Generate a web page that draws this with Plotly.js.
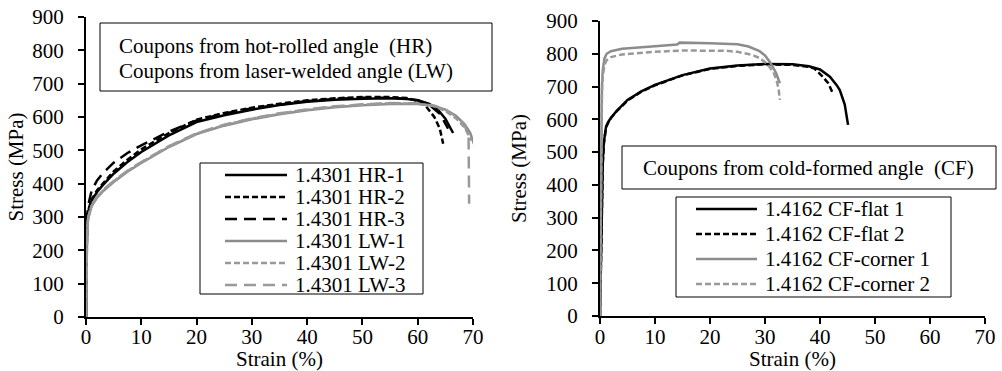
<!DOCTYPE html>
<html><head><meta charset="utf-8">
<script src="https://cdn.plot.ly/plotly-3.0.1.min.js"></script>
<style>html,body{margin:0;padding:0;background:#fff}</style>
</head><body><div id="chart" style="width:1002px;height:371px"></div>
<script>
// ---------- data (strain %, stress MPa) ----------
const hr1Strain = [0, 0.1, 0.2, 0.4, 0.7, 1, 2, 3, 5, 7.5, 10, 15, 20, 25, 30, 35, 40, 45, 50, 55, 58, 60, 62, 63.5, 65, 66.4];
const hr1Stress = [0, 200, 290, 315, 335, 348, 375, 395, 430, 465, 495, 545, 585, 605, 622, 636, 646, 652, 655, 656, 654, 650, 640, 625, 595, 552];
const hr2Strain = [0, 0.1, 0.2, 0.4, 0.7, 1, 2, 3, 5, 7.5, 10, 15, 20, 25, 30, 35, 40, 45, 50, 55, 58, 60, 61.5, 63, 64, 64.6];
const hr2Stress = [0, 200, 295, 320, 340, 352, 380, 400, 437, 472, 503, 552, 592, 612, 628, 640, 650, 656, 660, 660, 657, 648, 632, 600, 565, 520];
const hr3Strain = [0, 0.1, 0.2, 0.4, 0.7, 1, 2, 3, 5, 7.5, 10, 15, 20, 25, 30, 35, 40, 45, 50, 55, 58, 60, 62, 64, 65.5];
const hr3Stress = [0, 210, 300, 335, 360, 378, 410, 430, 463, 492, 515, 556, 590, 610, 626, 638, 648, 654, 658, 658, 655, 650, 638, 610, 565];
const lw1Strain = [0, 0.1, 0.2, 0.4, 0.7, 1, 2, 3, 5, 7.5, 10, 15, 20, 25, 30, 35, 40, 45, 50, 55, 60, 63, 65, 67, 68.5, 69.5, 70.2];
const lw1Stress = [0, 180, 260, 295, 318, 332, 358, 376, 405, 436, 462, 510, 549, 574, 593, 608, 620, 629, 635, 639, 639, 633, 622, 602, 578, 552, 518];
const lw2Strain = [0, 0.1, 0.2, 0.4, 0.7, 1, 2, 3, 5, 7.5, 10, 15, 20, 25, 30, 35, 40, 45, 50, 55, 60, 63, 65, 67, 68.5, 69.7];
const lw2Stress = [0, 185, 265, 298, 320, 334, 360, 378, 407, 438, 464, 512, 550, 576, 595, 610, 622, 631, 637, 641, 640, 632, 618, 595, 568, 530];
const lw3Strain = [0, 0.1, 0.2, 0.4, 0.7, 1, 2, 3, 5, 7.5, 10, 15, 20, 25, 30, 35, 40, 45, 50, 55, 60, 63, 65, 67, 68.5, 69.2, 69.3];
const lw3Stress = [0, 190, 270, 300, 322, 336, 362, 380, 408, 439, 465, 513, 551, 577, 596, 611, 623, 632, 638, 642, 641, 634, 622, 603, 575, 540, 340];

const flat1Strain = [0, 0.3, 0.5, 0.7, 0.9, 1.1, 1.5, 2, 3, 5, 7.5, 10, 15, 20, 25, 30, 35, 38, 40, 41.8, 43, 43.6, 44.5, 45.1];
const flat1Stress = [0, 300, 470, 530, 560, 578, 592, 605, 625, 659, 685, 705, 735, 755, 764, 769, 768, 762, 752, 730, 705, 689, 645, 583];
const flat2Strain = [0, 0.3, 0.5, 0.7, 0.9, 1.1, 1.5, 2, 3, 5, 7.5, 10, 15, 20, 25, 30, 35, 38, 39, 40.5, 41.5, 42.3];
const flat2Stress = [0, 290, 460, 525, 558, 576, 590, 604, 624, 657, 684, 704, 734, 754, 763, 768, 766, 760, 755, 730, 710, 681];
const corner1Strain = [0, 0.2, 0.35, 0.5, 0.8, 1.2, 2, 4, 7, 10, 14, 14.5, 20, 25, 27, 29, 30, 31, 32, 32.7];
const corner1Stress = [0, 550, 700, 750, 785, 800, 808, 815, 820, 823, 828, 834, 832, 829, 822, 808, 795, 772, 742, 710];
const corner2Strain = [0, 0.2, 0.35, 0.5, 0.8, 1.2, 2, 4, 7, 10, 15, 20, 23, 25, 27.8, 29, 30.3, 31.5, 32.1, 32.5, 32.7];
const corner2Stress = [0, 540, 680, 730, 765, 780, 790, 798, 803, 806, 810, 810, 809, 806, 796, 787, 771, 745, 720, 690, 659];

const leftNames = ['1.4301 HR-1', '1.4301 HR-2', '1.4301 HR-3', '1.4301 LW-1', '1.4301 LW-2', '1.4301 LW-3'];
const rightNames = ['1.4162 CF-flat 1', '1.4162 CF-flat 2', '1.4162 CF-corner 1', '1.4162 CF-corner 2'];
const leftNote = ['Coupons from hot-rolled angle  (HR)', 'Coupons from laser-welded angle (LW)'];
const rightNote = 'Coupons from cold-formed angle  (CF)';
const xTicks = [0, 10, 20, 30, 40, 50, 60, 70];
const yTicks = [0, 100, 200, 300, 400, 500, 600, 700, 800, 900];

// ---------- styles ----------
const BLACK = '#000000', GRAY = '#8c8c8c', GRAY2 = '#999999';
const SHORT = '6px,3px', LONG = '12px,7px';
const FONT = 'Liberation Serif';
const leftStyles = [
  {color: BLACK, dash: 'solid'}, {color: BLACK, dash: SHORT}, {color: BLACK, dash: LONG},
  {color: GRAY, dash: 'solid'}, {color: GRAY2, dash: SHORT}, {color: GRAY2, dash: LONG}
];
const rightStyles = [
  {color: BLACK, dash: 'solid'}, {color: BLACK, dash: SHORT},
  {color: GRAY, dash: 'solid'}, {color: GRAY2, dash: SHORT}
];
const leftData = [[hr1Strain, hr1Stress], [hr2Strain, hr2Stress], [hr3Strain, hr3Stress],
                  [lw1Strain, lw1Stress], [lw2Strain, lw2Stress], [lw3Strain, lw3Stress]];
const rightData = [[flat1Strain, flat1Stress], [flat2Strain, flat2Stress],
                   [corner1Strain, corner1Stress], [corner2Strain, corner2Stress]];

const traces = [];
leftData.forEach((d, i) => traces.push({
  x: d[0], y: d[1], type: 'scatter', mode: 'lines', name: leftNames[i], showlegend: false,
  xaxis: 'x', yaxis: 'y', line: {color: leftStyles[i].color, dash: leftStyles[i].dash, width: 2.5}
}));
rightData.forEach((d, i) => traces.push({
  x: d[0], y: d[1], type: 'scatter', mode: 'lines', name: rightNames[i], showlegend: false,
  xaxis: 'x2', yaxis: 'y2', line: {color: rightStyles[i].color, dash: rightStyles[i].dash, width: 2.5}
}));

// ---------- layout ----------
const W = 1002, H = 371, ML = 86, MR = 17, MT = 17, MB = 54;
const PW = W - ML - MR, PH = H - MT - MB;
const px = v => (v - ML) / PW;
const py = v => (H - MB - v) / PH;

function axis(extra) {
  return Object.assign({
    showline: true, linecolor: BLACK, linewidth: 2, showgrid: false, zeroline: false,
    ticks: 'outside', ticklen: 6, tickwidth: 2, tickcolor: BLACK,
    tickfont: {family: FONT, size: 21, color: BLACK}, automargin: false
  }, extra);
}
function inner(extra) {
  return Object.assign({
    showline: false, showgrid: false, zeroline: false, showticklabels: false,
    ticks: 'inside', ticklen: 6, tickwidth: 2, tickcolor: BLACK, automargin: false
  }, extra);
}
const xDomL = [0, px(473)], xDomR = [px(600), 1];
const yDomL = [0, 1], yDomR = [py(316), py(21)];

const layout = {
  width: W, height: H, paper_bgcolor: '#fff', plot_bgcolor: 'rgba(0,0,0,0)',
  margin: {l: ML, r: MR, t: MT, b: MB}, showlegend: false,
  font: {family: FONT, size: 21, color: BLACK},
  xaxis: axis({domain: xDomL, anchor: 'y', range: [0, 70], tickvals: xTicks, ticklabelstandoff: -6,
    title: {text: 'Strain (%)', font: {family: FONT, size: 21}, standoff: 3}}),
  yaxis: axis({domain: yDomL, anchor: 'x', range: [0, 900], tickvals: yTicks, ticklabelstandoff: 10,
    title: {text: 'Stress (MPa)', font: {family: FONT, size: 21}, standoff: 3}}),
  xaxis2: axis({domain: xDomR, anchor: 'y2', range: [0, 70], tickvals: xTicks, ticklabelstandoff: -5,
    title: {text: 'Strain (%)', font: {family: FONT, size: 21}, standoff: 3}}),
  yaxis2: axis({domain: yDomR, anchor: 'x2', range: [0, 900], tickvals: yTicks, ticklabelstandoff: 10,
    title: {text: 'Stress (MPa)', font: {family: FONT, size: 21}, standoff: 14}}),
  xaxis3: inner({overlaying: 'x', anchor: 'y', range: [0, 70], tickvals: xTicks}),
  yaxis3: inner({overlaying: 'y', anchor: 'x', range: [0, 900], tickvals: yTicks}),
  xaxis4: inner({overlaying: 'x2', anchor: 'y2', range: [0, 70], tickvals: xTicks}),
  yaxis4: inner({overlaying: 'y2', anchor: 'x2', range: [0, 900], tickvals: yTicks}),
  shapes: [], annotations: []
};

function box(x0, y0, x1, y1) {
  layout.shapes.push({type: 'rect', xref: 'paper', yref: 'paper', x0: px(x0), x1: px(x1), y0: py(y1), y1: py(y0),
    line: {color: BLACK, width: 1}, fillcolor: '#ffffff', layer: 'above'});
}
function text(t, x, y, anchor) {
  layout.annotations.push({text: t, xref: 'paper', yref: 'paper', x: px(x), y: py(y), xanchor: anchor,
    yanchor: 'middle', showarrow: false, font: {family: FONT, size: 21, color: BLACK}});
}
function legend(names, styles, bx0, by0, bx1, by1, firstY, step, lx0, lx1, tx) {
  box(bx0, by0, bx1, by1);
  names.forEach((n, i) => {
    const y = firstY + i * step;
    layout.shapes.push({type: 'line', xref: 'paper', yref: 'paper', x0: px(lx0), x1: px(lx1), y0: py(y), y1: py(y),
      line: {color: styles[i].color, dash: styles[i].dash, width: 2.5}, layer: 'above'});
    text(n, tx, y, 'left');
  });
}

// annotation boxes
box(100, 23, 492, 91);
text(leftNote[0], 117, 46, 'left');
text(leftNote[1], 117, 71, 'left');
box(622, 146, 996, 189);
text(rightNote, 808, 168, 'center');

// legends
legend(leftNames, leftStyles, 200, 163, 423, 294, 175, 22, 225, 287, 293);
legend(rightNames, rightStyles, 676, 197, 951, 297, 209, 25, 696, 757, 763);

Plotly.newPlot('chart', traces, layout, {displayModeBar: false, staticPlot: true});
</script></body></html>
